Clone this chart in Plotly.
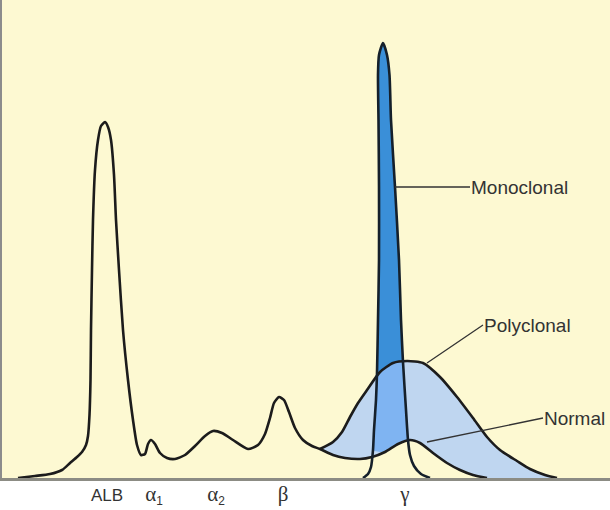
import numpy as np
import plotly.graph_objects as go

# Normal serum protein electrophoresis densitometry trace (mobility, density)
normal_x = [18, 35, 50, 62, 70, 77, 82, 86, 88, 89.5, 90.5, 91, 92, 93, 95, 98, 101, 105,
            108, 111, 114, 116, 119, 123, 128, 133, 137, 141, 145, 148, 151, 155, 160, 167,
            175, 185, 195, 205, 213, 222, 233, 248, 258, 265, 270, 274, 279, 284, 289, 295,
            303, 312, 320, 333, 345, 360, 372, 385, 398, 410, 420, 433, 447, 460, 473, 487]
normal_y = [0, 2, 4, 8, 15, 21, 26, 33, 42, 63, 98, 148, 208, 258, 308, 338, 352, 356,
            351, 338, 303, 258, 208, 148, 98, 58, 33, 23, 24, 34, 38, 34, 25, 20,
            19, 23, 32, 42, 47, 45, 38, 29, 33, 44, 60, 75, 81, 78, 66, 50,
            38, 32, 29, 23, 20, 19, 21, 26, 34, 38, 35, 25, 15, 8, 3, 0]

# Polyclonal gammopathy (broad gamma band)
poly_x = [320, 333, 342, 350, 358, 367, 380, 393, 407, 423, 440, 457, 473, 487, 500, 517, 530, 545, 557]
poly_y = [29, 36, 46, 61, 75, 88, 106, 115, 117, 115, 101, 81, 60, 41, 28, 17, 9, 3, 0]

# Monoclonal spike (M-protein)
mono_x = [363, 368, 371, 373, 374, 376, 377, 378, 379, 379, 378.5, 378, 379, 383, 387, 389.5,
          391, 395, 399, 401, 403, 406, 408, 410, 414, 421, 430]
mono_y = [0, 4, 11, 28, 48, 78, 105, 158, 218, 291, 358, 403, 423, 435, 423, 403,
          358, 291, 218, 158, 116, 68, 38, 23, 12, 4, 0]

serif = 'font-family:Liberation Serif,DejaVu Serif,serif;font-size:21px'
band_labels = ['ALB',
               f'<span style="{serif}">α</span><sub>1</sub>',
               f'<span style="{serif}">α</span><sub>2</sub>',
               f'<span style="{serif}">β</span>',
               f'<span style="{serif}">γ</span>']
band_pos = [107, 154, 216, 283, 405]

nx, ny = np.array(normal_x, float), np.array(normal_y, float)
px_, py_ = np.array(poly_x, float), np.array(poly_y, float)
mx, my = np.array(mono_x, float), np.array(mono_y, float)

# fill regions bounded below by the normal curve
above = my > np.interp(mx, nx, ny)
mxs, mys = mx[above], my[above]
sel = (nx > mxs.min()) & (nx < mxs.max())
mono_fx = np.concatenate([mxs, nx[sel][::-1], mxs[:1]])
mono_fy = np.concatenate([mys, ny[sel][::-1], mys[:1]])

selp = nx >= px_.min()
poly_fx = np.concatenate([px_, nx[selp][::-1]])
poly_fy = np.concatenate([py_, ny[selp][::-1]])

line_col = '#1c1c1c'
fig = go.Figure()
fig.add_trace(go.Scatter(x=mono_fx, y=mono_fy, mode='lines', fill='toself',
                         fillcolor='#3a8fd8', line=dict(width=0, shape='spline', smoothing=0.6),
                         hoverinfo='skip'))
fig.add_trace(go.Scatter(x=poly_fx, y=poly_fy, mode='lines', fill='toself',
                         fillcolor='rgba(160,198,253,0.68)',
                         line=dict(width=0, shape='spline', smoothing=0.6), hoverinfo='skip'))
fig.add_trace(go.Scatter(x=normal_x, y=normal_y, mode='lines', name='Normal',
                         line=dict(color=line_col, width=2.6, shape='spline', smoothing=0.6)))
fig.add_trace(go.Scatter(x=poly_x, y=poly_y, mode='lines', name='Polyclonal',
                         line=dict(color=line_col, width=2.6, shape='spline', smoothing=0.6)))
fig.add_trace(go.Scatter(x=mono_x, y=mono_y, mode='lines', name='Monoclonal',
                         line=dict(color='#15202b', width=2.6, shape='spline', smoothing=0.6)))

ann_font = dict(family='Liberation Sans, Arial, sans-serif', size=19, color='#333333')
notes = [
    ('Monoclonal', 395, 291, 75, 0),
    ('Polyclonal', 427, 115, 56, -38),
    ('Normal', 427, 36, 116, -24),
]
for txt, x, y, ax, ay in notes:
    fig.add_annotation(x=x, y=y, text=txt, showarrow=True, arrowhead=0, arrowwidth=1.3,
                       arrowcolor='#333333', ax=ax, ay=ay, xanchor='left', yanchor='middle',
                       font=ann_font, standoff=0, borderpad=0)

fig.update_layout(
    width=610, height=510,
    margin=dict(l=2, r=0, t=0, b=32),
    paper_bgcolor='white', plot_bgcolor='#fdf9d2',
    showlegend=False,
    xaxis=dict(range=[2, 610], showgrid=False, zeroline=False, showline=True,
               linecolor='#8c8c84', linewidth=3, tickvals=band_pos, ticktext=band_labels,
               ticks='', tickfont=dict(family='Liberation Sans, Arial, sans-serif', size=17,
                                       color='#333333')),
    yaxis=dict(range=[0, 478], showgrid=False, zeroline=False, showline=True,
               linecolor='#8c8c8c', linewidth=2, showticklabels=False, ticks=''),
)
fig.write_html('out.html', config={'displayModeBar': False},
               post_script="document.body.style.margin='0';document.body.style.overflow='hidden';")
